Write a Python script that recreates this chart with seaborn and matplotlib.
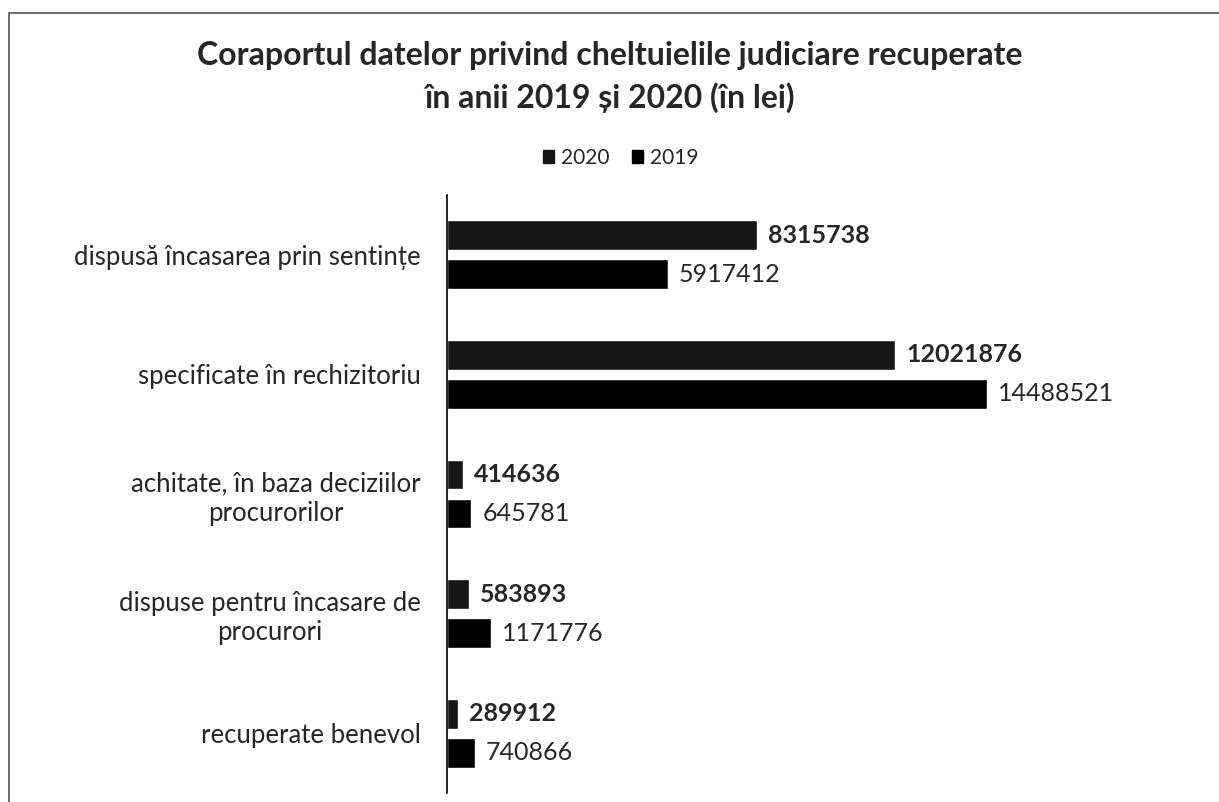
import pandas as pd
import numpy as np
import matplotlib.pyplot as plt
import seaborn as sns
from matplotlib.patches import Patch

categories = [
    'dispusă încasarea prin sentințe',
    'specificate în rechizitoriu',
    'achitate, în baza deciziilor\nprocurorilor',
    'dispuse pentru încasare de\nprocurori',
    'recuperate benevol',
]
values_2020 = [8315738, 12021876, 414636, 583893, 289912]
values_2019 = [5917412, 14488521, 645781, 1171776, 740866]
years = ['2020', '2019']
colors = {'2020': '#161616', '2019': '#000000'}

df = pd.DataFrame({
    'categorie': categories * 2,
    'an': [years[0]] * 5 + [years[1]] * 5,
    'valoare': values_2020 + values_2019,
})

sns.set_style('white')
plt.rcParams['font.family'] = ['Lato', 'DejaVu Sans']

fig = plt.figure(figsize=(12.19, 8.02), dpi=100)
ax = fig.add_axes([0.367, 0.011, 0.55, 0.746])

sns.barplot(data=df, y='categorie', x='valoare', hue='an', hue_order=years,
            order=categories, palette=colors,
            width=0.652, gap=0.233, orient='h', ax=ax, legend=False)

ax.set_xlim(0, 18000000)
ax.set_xlabel('')
ax.set_ylabel('')
ax.set_xticks([])
ax.tick_params(axis='y', length=0, labelsize=18.5, pad=19)
for lbl in ax.get_yticklabels():
    lbl.set_multialignment('center')
for side in ['top', 'right', 'bottom']:
    ax.spines[side].set_visible(False)
ax.spines['left'].set_color('black')
ax.spines['left'].set_linewidth(1.2)

# etichete de valori
for cont, bold in zip(ax.containers, [True, False]):
    ax.bar_label(cont, labels=[str(int(v)) for v in cont.datavalues], padding=8,
                 fontsize=18, fontweight='bold' if bold else 'normal')

fig.text(0.5, 0.904, 'Coraportul datelor privind cheltuielile judiciare recuperate\nîn anii 2019 și 2020 (în lei)',
         ha='center', va='center', fontsize=23, fontweight='bold', linespacing=1.5)

handles = [Patch(color=colors[y], label=y) for y in years]
fig.legend(handles=handles, loc='center', bbox_to_anchor=(0.509, 0.803), ncol=2, frameon=False,
           fontsize=15, handlelength=0.55, handleheight=0.55, handletextpad=0.3, columnspacing=1.1)

# cadru
fig.add_artist(plt.Line2D([0.007, 1], [0.984, 0.984], color='#555555', lw=1.2))
fig.add_artist(plt.Line2D([0.007, 0.007], [0, 0.984], color='#555555', lw=1.2))

fig.savefig('out.png', dpi=100)
